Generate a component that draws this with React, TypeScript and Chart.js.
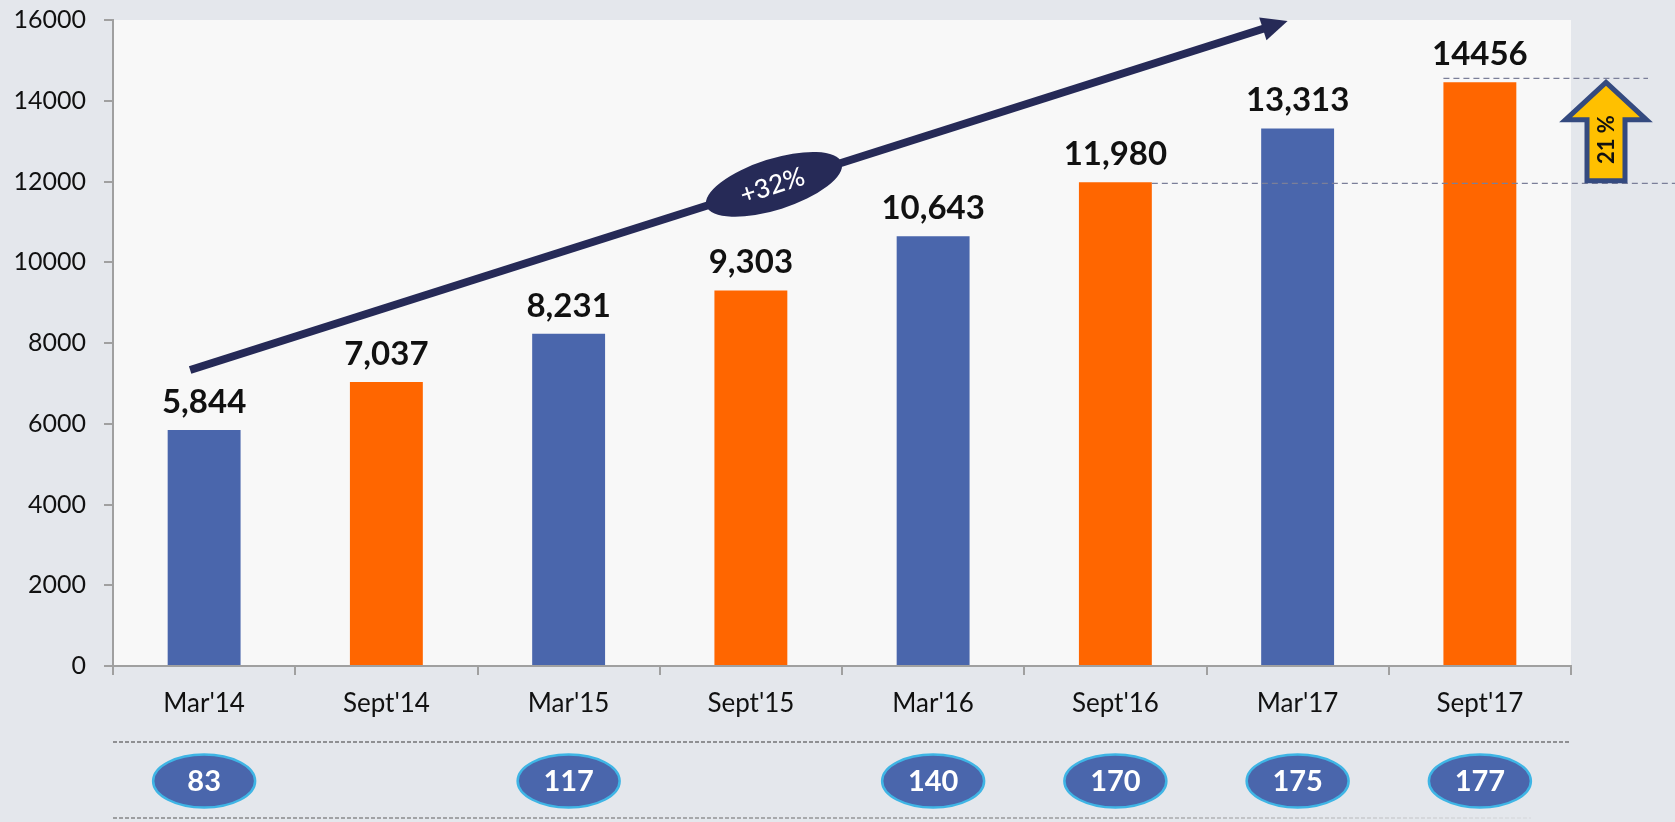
import React, { useEffect, useRef } from "react";
import { Chart, registerables } from "chart.js";

Chart.register(...registerables);

const categories = ["Mar'14", "Sept'14", "Mar'15", "Sept'15", "Mar'16", "Sept'16", "Mar'17", "Sept'17"];
const values = [5844, 7037, 8231, 9303, 10643, 11980, 13313, 14456];
const valueLabels = ["5,844", "7,037", "8,231", "9,303", "10,643", "11,980", "13,313", "14456"];
const barColors = ["#4a66ac", "#ff6600", "#4a66ac", "#ff6600", "#4a66ac", "#ff6600", "#4a66ac", "#ff6600"];
const bubbleValues: (number | null)[] = [83, null, 117, null, 140, 170, 175, 177];
const yMin = 0;
const yMax = 16000;
const yStep = 2000;
const growthLabel = "+32%";
const growthStartValue = 7330;
const growthEndValue = 15975;
const changeLabel = "21 %";

const FONT = "Lato, 'Open Sans', sans-serif";

const decorPlugin = {
  id: "decor",
  beforeDraw(chart: any) {
    const { ctx, chartArea } = chart;
    ctx.save();
    ctx.fillStyle = "#e4e7ec";
    ctx.fillRect(0, 0, chart.width, chart.height);
    ctx.fillStyle = "#f8f8f8";
    ctx.fillRect(chartArea.left, chartArea.top, chartArea.right - chartArea.left, chartArea.bottom - chartArea.top);
    ctx.restore();
  },
  afterDatasetsDraw(chart: any) {
    const { ctx, chartArea } = chart;
    const xs = chart.scales.x;
    const ys = chart.scales.y;
    const meta = chart.getDatasetMeta(0);
    ctx.save();

    // value labels
    ctx.fillStyle = "#111";
    ctx.font = `bold 33px ${FONT}`;
    ctx.textAlign = "center";
    ctx.textBaseline = "alphabetic";
    meta.data.forEach((el: any, i: number) => {
      ctx.fillText(valueLabels[i], el.x, el.y - 17);
    });

    // big growth arrow
    const x0 = xs.getPixelForValue(0) - 14;
    const y0 = ys.getPixelForValue(growthStartValue);
    const x1 = xs.getPixelForValue(6) - 10;
    const y1 = ys.getPixelForValue(growthEndValue);
    const ang = Math.atan2(y1 - y0, x1 - x0);
    const headLen = 26;
    const headHalf = 12;
    const navy = "#262a57";
    ctx.strokeStyle = navy;
    ctx.lineWidth = 8;
    ctx.lineCap = "butt";
    ctx.beginPath();
    ctx.moveTo(x0, y0);
    ctx.lineTo(x1 - Math.cos(ang) * (headLen - 2), y1 - Math.sin(ang) * (headLen - 2));
    ctx.stroke();
    ctx.fillStyle = navy;
    const bx = x1 - Math.cos(ang) * headLen;
    const by = y1 - Math.sin(ang) * headLen;
    ctx.beginPath();
    ctx.moveTo(x1, y1);
    ctx.lineTo(bx + Math.sin(ang) * headHalf, by - Math.cos(ang) * headHalf);
    ctx.lineTo(bx - Math.sin(ang) * headHalf, by + Math.cos(ang) * headHalf);
    ctx.closePath();
    ctx.fill();

    // growth ellipse
    const t = 0.532;
    const ex = x0 + (x1 - x0) * t;
    const ey = y0 + (y1 - y0) * t;
    ctx.save();
    ctx.translate(ex, ey);
    ctx.rotate(ang);
    ctx.beginPath();
    ctx.ellipse(0, 0, 71, 25.5, 0, 0, Math.PI * 2);
    ctx.fill();
    ctx.fillStyle = "#ffffff";
    ctx.font = `500 26px ${FONT}`;
    ctx.textAlign = "center";
    ctx.textBaseline = "middle";
    ctx.fillText(growthLabel, -2, 1);
    ctx.restore();

    // right-side dashed reference lines
    const topY = ys.getPixelForValue(values[7]) - 4;
    const lowY = ys.getPixelForValue(values[5]) + 1;
    const lastBar = meta.data[7];
    const prevBar = meta.data[5];
    ctx.strokeStyle = "#7b7f99";
    ctx.lineWidth = 1.3;
    ctx.setLineDash([6, 4]);
    ctx.beginPath();
    ctx.moveTo(lastBar.x - lastBar.width / 2, topY);
    ctx.lineTo(chartArea.right + 77, topY);
    ctx.moveTo(prevBar.x + prevBar.width / 2, lowY);
    ctx.lineTo(chart.width, lowY);
    ctx.stroke();
    ctx.setLineDash([]);

    // yellow up arrow
    const cx = chartArea.right + 35;
    const headY = topY + 41.5;
    ctx.beginPath();
    ctx.moveTo(cx, topY + 4);
    ctx.lineTo(cx + 40.5, headY);
    ctx.lineTo(cx + 19, headY);
    ctx.lineTo(cx + 19, lowY - 2.5);
    ctx.lineTo(cx - 19, lowY - 2.5);
    ctx.lineTo(cx - 19, headY);
    ctx.lineTo(cx - 40.5, headY);
    ctx.closePath();
    ctx.fillStyle = "#ffc000";
    ctx.fill();
    ctx.strokeStyle = "#344a7f";
    ctx.lineWidth = 5;
    ctx.lineJoin = "miter";
    ctx.stroke();
    ctx.save();
    ctx.translate(cx + 1, (headY + lowY) / 2 - 12);
    ctx.rotate(-Math.PI / 2);
    ctx.fillStyle = "#111";
    ctx.font = `bold 22px ${FONT}`;
    ctx.textAlign = "center";
    ctx.textBaseline = "middle";
    ctx.fillText(changeLabel, 0, 0);
    ctx.restore();

    // bottom band dashed lines
    const bandTop = chartArea.bottom + 76;
    const bandBottom = chartArea.bottom + 152;
    ctx.setLineDash([4, 2]);
    ctx.lineWidth = 1.2;
    ctx.strokeStyle = "#3a3a3a";
    ctx.beginPath();
    ctx.moveTo(chartArea.left, bandTop);
    ctx.lineTo(chartArea.right - 2, bandTop);
    ctx.stroke();
    const grad = ctx.createLinearGradient(chartArea.left, 0, chartArea.right - 40, 0);
    grad.addColorStop(0, "#555");
    grad.addColorStop(0.7, "#777");
    grad.addColorStop(1, "rgba(180,180,180,0.3)");
    ctx.strokeStyle = grad;
    ctx.beginPath();
    ctx.moveTo(chartArea.left, bandBottom);
    ctx.lineTo(chartArea.right - 40, bandBottom);
    ctx.stroke();
    ctx.setLineDash([]);

    // bubbles
    const bubY = chartArea.bottom + 115;
    bubbleValues.forEach((v, i) => {
      if (v === null) return;
      const bx2 = xs.getPixelForValue(i);
      ctx.beginPath();
      ctx.ellipse(bx2, bubY, 51, 26.5, 0, 0, Math.PI * 2);
      ctx.fillStyle = "#4a66ac";
      ctx.fill();
      ctx.lineWidth = 2.5;
      ctx.strokeStyle = "#3fb5e5";
      ctx.stroke();
      ctx.fillStyle = "#ffffff";
      ctx.font = `bold 29px ${FONT}`;
      ctx.textAlign = "center";
      ctx.textBaseline = "middle";
      ctx.fillText(String(v), bx2, bubY + 1);
    });

    ctx.restore();
  },
};

export default function App() {
  const ref = useRef<HTMLCanvasElement | null>(null);
  useEffect(() => {
    if (!ref.current) return;
    const chart = new Chart(ref.current, {
      type: "bar",
      data: {
        labels: categories,
        datasets: [
          {
            data: values,
            backgroundColor: barColors,
            borderWidth: 0,
            barPercentage: 0.4,
            categoryPercentage: 1,
          },
        ],
      },
      options: {
        animation: false,
        responsive: false,
        devicePixelRatio: 1,
        layout: { padding: { left: 0, top: 20, right: 104, bottom: 0 } },
        plugins: { legend: { display: false }, tooltip: { enabled: false } },
        scales: {
          x: {
            afterFit: (s: any) => {
              s.height = 156;
              s.paddingLeft = 0;
              s.paddingRight = 0;
            },
            grid: {
              display: true,
              drawOnChartArea: false,
              drawTicks: true,
              tickLength: 9,
              offset: true,
              color: "#a0a0a0",
              lineWidth: 2,
            },
            border: { display: true, color: "#a0a0a0", width: 2 },
            ticks: {
              color: "#111",
              padding: 13,
              font: { family: FONT, size: 26 },
              maxRotation: 0,
            },
          },
          y: {
            min: yMin,
            max: yMax,
            afterFit: (s: any) => {
              s.width = 113;
              s.paddingTop = 0;
              s.paddingBottom = 0;
            },
            grid: {
              display: true,
              drawOnChartArea: false,
              drawTicks: true,
              tickLength: 9,
              color: "#a0a0a0",
              lineWidth: 2,
            },
            border: { display: true, color: "#a0a0a0", width: 2 },
            ticks: {
              stepSize: yStep,
              color: "#111",
              padding: 18,
              font: { family: FONT, size: 25 },
              callback: (v: any) => String(v),
            },
          },
        },
      },
      plugins: [decorPlugin],
    });
    return () => chart.destroy();
  }, []);
  return (
    <div style={{ position: "absolute", left: 0, top: 0, width: 1675, height: 822 }}>
      <canvas ref={ref} width={1675} height={822} style={{ display: "block" }} />
    </div>
  );
}
